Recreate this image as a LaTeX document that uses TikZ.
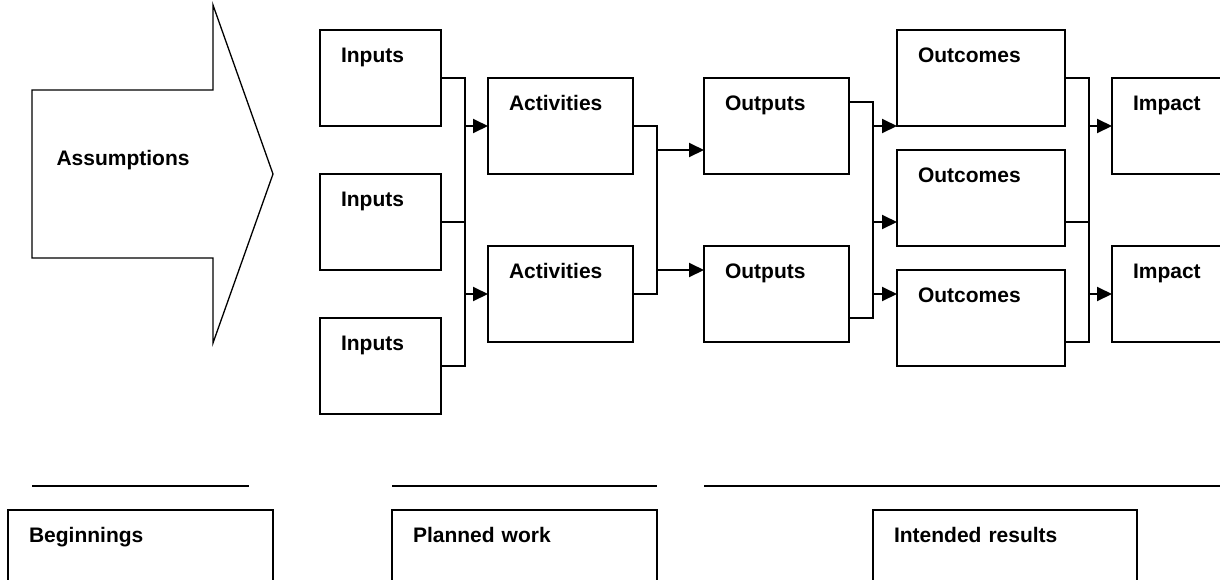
\documentclass[tikz,border=0pt]{standalone}
\usepackage{fontspec}
\setmainfont{Liberation Sans}
\usetikzlibrary{arrows.meta}

\begin{document}
\begin{tikzpicture}[x=1pt, y=-1pt,
    every node/.style = {font=\fontsize{21}{25}\selectfont\bfseries},
    box/.style = {draw, line width=1.9pt, anchor=north west, align=left,
      outer sep=0pt, inner xsep=21pt, inner ysep=0pt,
      text height=32pt, text depth=64pt, text width=#1},
    wire/.style = {line width=1.9pt},
    flow/.style = {wire, -{Triangle[length=15pt,width=14pt]}}]
  \useasboundingbox (0,0) rectangle (1220,579);
  \clip (0,0) rectangle (1220,579);

  % big arrow on the left
  \draw[line width=1.3pt] (32,90) -- (213,90) -- (213,5) -- (273,174)
    -- (213,343) -- (213,258) -- (32,258) -- cycle;
  \node[anchor=base west] (assume) at (53,165) {Assumptions};

  % the chain of boxes
  \node[box=79pt] (in1) at (320,30) {Inputs};
  \node[box=79pt] (in2) at (320,174) {Inputs};
  \node[box=79pt] (in3) at (320,318) {Inputs};
  \node[box=103pt] (act1) at (488,78) {Activities};
  \node[box=103pt] (act2) at (488,246) {Activities};
  \node[box=103pt] (outp1) at (704,78) {Outputs};
  \node[box=103pt] (outp2) at (704,246) {Outputs};
  \node[box=126pt] (oc1) at (897,30) {Outcomes};
  \node[box=126pt] (oc2) at (897,150) {Outcomes};
  \node[box=126pt] (oc3) at (897,270) {Outcomes};
  \node[box=88pt] (imp1) at (1112,78) {Impact};
  \node[box=88pt] (imp2) at (1112,246) {Impact};

  % vertical bus lines
  \coordinate (bus1) at (465,0);
  \coordinate (bus2) at (657,0);
  \coordinate (bus3) at (873,0);
  \coordinate (bus4) at (1089,0);

  % inputs -> activities
  \draw[wire] (in1.east) -| (bus1 |- in3.east) -- (in3.east);
  \draw[wire] (in2.east) -- (bus1 |- in2.east);
  \draw[flow] (bus1 |- act1.west) -- (act1.west);
  \draw[flow] (bus1 |- act2.west) -- (act2.west);

  % activities -> outputs
  \coordinate (o1l) at ([yshift=-24pt]outp1.west);
  \coordinate (o2l) at ([yshift=24pt]outp2.west);
  \draw[wire] (act1.east) -| (bus2 |- act2.east) -- (act2.east);
  \draw[flow] (bus2 |- o1l) -- (o1l);
  \draw[flow] (bus2 |- o2l) -- (o2l);

  % outputs -> outcomes
  \coordinate (o1r) at ([yshift=24pt]outp1.east);
  \coordinate (o2r) at ([yshift=-24pt]outp2.east);
  \coordinate (c2l) at ([yshift=-24pt]oc2.west);
  \coordinate (c3l) at ([yshift=24pt]oc3.west);
  \draw[wire] (o1r) -| (bus3 |- o2r) -- (o2r);
  \draw[flow] (bus3 |- oc1.south west) -- (oc1.south west);
  \draw[flow] (bus3 |- c2l) -- (c2l);
  \draw[flow] (bus3 |- c3l) -- (c3l);

  % outcomes -> impact
  \coordinate (c2r) at ([yshift=-24pt]oc2.east);
  \coordinate (c3r) at ([yshift=-24pt]oc3.east);
  \draw[wire] (oc1.east) -| (bus4 |- c3r) -- (c3r);
  \draw[wire] (c2r) -- (bus4 |- c2r);
  \draw[flow] (bus4 |- imp1.west) -- (imp1.west);
  \draw[flow] (bus4 |- imp2.west) -- (imp2.west);

  % headings along the bottom
  \draw[wire] (32,486) -- (249,486);
  \draw[wire] (392,486) -- (657,486);
  \draw[wire] (704,486) -- (1220,486);
  \node[box=223pt] (begin) at (8,510) {Beginnings};
  \node[box=223pt] (plan) at (392,510) {Planned work};
  \node[box=222pt] (result) at (873,510) {Intended results};
\end{tikzpicture}
\end{document}
